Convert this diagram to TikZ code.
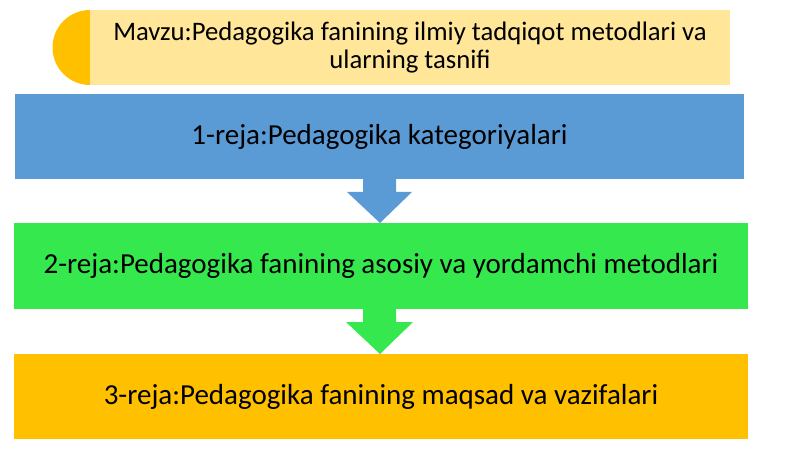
\documentclass[tikz,border=0pt]{standalone}
\usepackage{fontspec}
\setmainfont{Carlito}
\definecolor{pale}{HTML}{FFE699}
\definecolor{gold}{HTML}{FFC000}
\definecolor{bluef}{HTML}{5B9BD5}
\definecolor{greenf}{HTML}{35E84E}
\begin{document}
\begin{tikzpicture}[x=1pt,y=-1pt,
  toptxt/.style={font=\fontsize{26.7}{28}\selectfont,align=center,inner sep=0pt},
  bandtxt/.style={font=\fontsize{29}{32}\selectfont,align=center,inner sep=0pt}]
\useasboundingbox (0,0) rectangle (800,449);
% top banner
\fill[gold] (90,10) arc[start angle=90,end angle=270,radius=37.5pt] -- cycle;
\fill[pale] (90,10) rectangle (730,85);
\node[toptxt] (topic) at (410,47.5) {Mavzu:Pedagogika fanining ilmiy tadqiqot metodlari va\\ularning tasnifi};
% boxes
\fill[bluef] (15,94) rectangle (744,179);
\node[bandtxt] (r1) at (379.5,136.5) {1-reja:Pedagogika kategoriyalari};
\fill[greenf] (14,223) rectangle (748,309);
\node[bandtxt] (r2) at (381,266) {2-reja:Pedagogika fanining asosiy va yordamchi metodlari};
\fill[gold] (14,354) rectangle (748,439);
\node[bandtxt] (r3) at (381,396.5) {3-reja:Pedagogika fanining maqsad va vazifalari};
% arrows
\fill[bluef] (363,179) -- (396,179) -- (396,192) -- (412,192) -- (380,223) -- (347,192) -- (363,192) -- cycle;
\fill[greenf] (363,309) -- (396,309) -- (396,322) -- (413,322) -- (380,354) -- (346,322) -- (363,322) -- cycle;
\end{tikzpicture}
\end{document}
